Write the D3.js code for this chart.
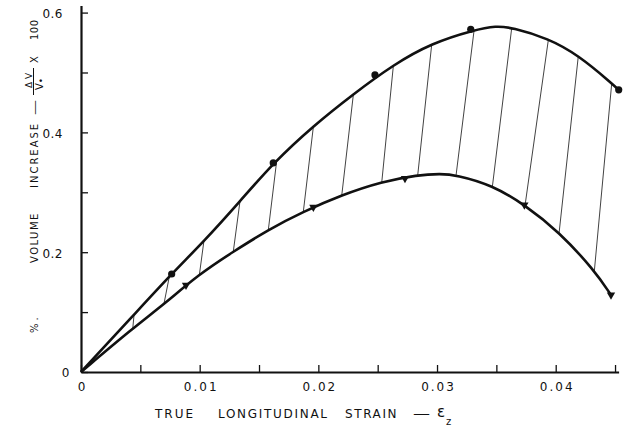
<!DOCTYPE html>
<html>
<head>
<meta charset="utf-8">
<script src="https://cdn.jsdelivr.net/npm/d3@7"></script>
<style>
  body { margin: 0; background: #fff; }
  text { font-family: "DejaVu Sans", sans-serif; fill: #111; }
</style>
</head>
<body>
<div id="chart"></div>
<script>
// upper curve (dots) and lower curve (triangles)
const upperCurve = [
  [0, 0], [0.00447, 0.0957], [0.00764, 0.164], [0.01036, 0.218], [0.0134, 0.285],
  [0.0162, 0.349], [0.01958, 0.411], [0.02295, 0.464], [0.02632, 0.513], [0.02955, 0.549],
  [0.03312, 0.571], [0.035, 0.578], [0.03629, 0.575], [0.03938, 0.557], [0.0419, 0.529],
  [0.04472, 0.482], [0.04531, 0.471]
];
const lowerCurve = [
  [0, 0], [0.00436, 0.073], [0.00699, 0.113], [0.00997, 0.1636], [0.01283, 0.2008],
  [0.01578, 0.2376], [0.01873, 0.2676], [0.02197, 0.2955], [0.02534, 0.3177], [0.02837, 0.329],
  [0.0303, 0.331], [0.0316, 0.329], [0.03466, 0.312], [0.03741, 0.2788], [0.04028, 0.234],
  [0.04325, 0.170], [0.04466, 0.1285]
];
const upperPoints = [[0.00764, 0.1636], [0.0162, 0.349], [0.02477, 0.496], [0.03284, 0.572], [0.04531, 0.471]];
const lowerPoints = [[0.00885, 0.145], [0.01958, 0.275], [0.0273, 0.3233], [0.03736, 0.2788], [0.04466, 0.1285]];

// hatch lines: strain where each one meets the upper and the lower curve
const hatchUpperX = [0.00447, 0.00744, 0.01036, 0.0134, 0.01649, 0.01958, 0.02295, 0.02632, 0.02955, 0.03312, 0.03629, 0.03938, 0.0419, 0.04472];
const hatchLowerX = [0.00436, 0.00699, 0.00997, 0.01283, 0.01578, 0.01873, 0.02197, 0.02534, 0.02837, 0.0316, 0.03466, 0.03741, 0.04028, 0.04325];

// ticks
const xTicks = [0, 0.005, 0.01, 0.015, 0.02, 0.025, 0.03, 0.035, 0.04, 0.045];
const xTickLabels = ["0", "", "0.01", "", "0.02", "", "0.03", "", "0.04", ""];
const yTicks = [0, 0.1, 0.2, 0.3, 0.4, 0.5, 0.6];
const yTickLabels = ["0", "", "0.2", "", "0.4", "", "0.6"];

const W = 631, H = 429;
const ink = "#111";

const svg = d3.select("#chart").append("svg")
  .attr("width", W).attr("height", H);

const x = d3.scaleLinear().domain([0, 0.0453]).range([81, 618.6]);
const y = d3.scaleLinear().domain([0, 0.612]).range([372, 5.4]);

// axes
const xAxis = svg.append("g")
  .attr("transform", "translate(0,372)")
  .call(d3.axisBottom(x).tickValues(xTicks).tickSizeInner(-7).tickSizeOuter(0).tickPadding(10)
    .tickFormat((d, i) => xTickLabels[i]));
const yAxis = svg.append("g")
  .attr("transform", "translate(81,0)")
  .call(d3.axisLeft(y).tickValues(yTicks).tickSizeInner(-7).tickSizeOuter(0).tickPadding(18)
    .tickFormat((d, i) => yTickLabels[i]));

[xAxis, yAxis].forEach(g => {
  g.select(".domain").attr("stroke", ink).attr("stroke-width", 2.2);
  g.selectAll(".tick line").attr("stroke", ink).attr("stroke-width", 1.3);
  g.selectAll(".tick text").attr("font-size", 12).attr("fill", ink)
    .style("font-family", "'DejaVu Sans', sans-serif");
});
xAxis.selectAll(".tick text").attr("letter-spacing", 2).attr("dx", 1);
yAxis.selectAll(".tick text").attr("letter-spacing", 0.5)
  .attr("dx", d => d === 0 ? 7 : 0).attr("dy", "0.4em");

// curves
const line = d3.line().x(d => x(d[0])).y(d => y(d[1])).curve(d3.curveBasis);
const upperPath = svg.append("path").datum(upperCurve)
  .attr("fill", "none").attr("stroke", ink).attr("stroke-width", 2.6).attr("d", line);
const lowerPath = svg.append("path").datum(lowerCurve)
  .attr("fill", "none").attr("stroke", ink).attr("stroke-width", 2.6).attr("d", line);

// find the y of a drawn path at a given pixel x
function sampler(node) {
  const L = node.getTotalLength(), pts = [];
  for (let i = 0; i <= 800; i++) {
    const p = node.getPointAtLength(L * i / 800);
    pts.push([p.x, p.y]);
  }
  return px => {
    for (let i = 1; i < pts.length; i++) {
      if (pts[i][0] >= px) {
        const [x0, y0] = pts[i - 1], [x1, y1] = pts[i];
        const t = (px - x0) / ((x1 - x0) || 1);
        return y0 + t * (y1 - y0);
      }
    }
    return pts[pts.length - 1][1];
  };
}
const upperY = sampler(upperPath.node());
const lowerY = sampler(lowerPath.node());

svg.append("g").selectAll("line")
  .data(d3.zip(hatchUpperX, hatchLowerX))
  .join("line")
  .attr("x1", d => x(d[0])).attr("y1", d => upperY(x(d[0])))
  .attr("x2", d => x(d[1])).attr("y2", d => lowerY(x(d[1])))
  .attr("stroke", ink).attr("stroke-width", 0.8);

// markers
svg.append("g").selectAll("circle")
  .data(upperPoints)
  .join("circle")
  .attr("cx", d => x(d[0])).attr("cy", d => y(d[1])).attr("r", 3.6)
  .attr("fill", ink);
svg.append("g").selectAll("path")
  .data(lowerPoints)
  .join("path")
  .attr("d", d3.symbol(d3.symbolTriangle, 30))
  .attr("transform", d => `translate(${x(d[0])},${y(d[1])}) rotate(180)`)
  .attr("fill", ink);

// x title
const xt = svg.append("g").attr("font-size", 12);
xt.append("text").attr("x", 155).attr("y", 418).attr("letter-spacing", 2).text("TRUE");
xt.append("text").attr("x", 218).attr("y", 418).attr("letter-spacing", 1.7).text("LONGITUDINAL");
xt.append("text").attr("x", 345).attr("y", 418).attr("letter-spacing", 1.6).text("STRAIN");
xt.append("text").attr("x", 413).attr("y", 418).attr("textLength", 17)
  .attr("lengthAdjust", "spacingAndGlyphs").text("—");
xt.append("text").attr("x", 437).attr("y", 417).attr("font-size", 15).text("ε");
xt.append("text").attr("x", 446).attr("y", 425).attr("font-size", 10).text("z");

// y title, reads bottom to top
const yt = svg.append("g").attr("transform", "translate(0,333) rotate(-90)").attr("font-size", 10);
yt.append("text").attr("x", 0).attr("y", 37.5).attr("letter-spacing", 3).text("%.");
yt.append("text").attr("x", 70).attr("y", 37.5).attr("letter-spacing", 1.5).text("VOLUME");
yt.append("text").attr("x", 145).attr("y", 37.5).attr("letter-spacing", 2).text("INCREASE");
yt.append("text").attr("x", 218).attr("y", 37.5).attr("textLength", 15)
  .attr("lengthAdjust", "spacingAndGlyphs").text("—");
yt.append("line").attr("x1", 238).attr("x2", 265).attr("y1", 33.5).attr("y2", 33.5)
  .attr("stroke", ink).attr("stroke-width", 1);
yt.append("text").attr("x", 245).attr("y", 31.5).attr("font-size", 9).text("Δ V");
const den = yt.append("text").attr("x", 243).attr("y", 42.5).attr("font-size", 10);
den.append("tspan").text("V");
den.append("tspan").attr("dy", 1).attr("font-size", 9).text("•");
yt.append("text").attr("x", 270).attr("y", 37.5).text("X");
yt.append("text").attr("x", 293).attr("y", 37.5).attr("letter-spacing", 0.5).text("100");
</script>
</body>
</html>
